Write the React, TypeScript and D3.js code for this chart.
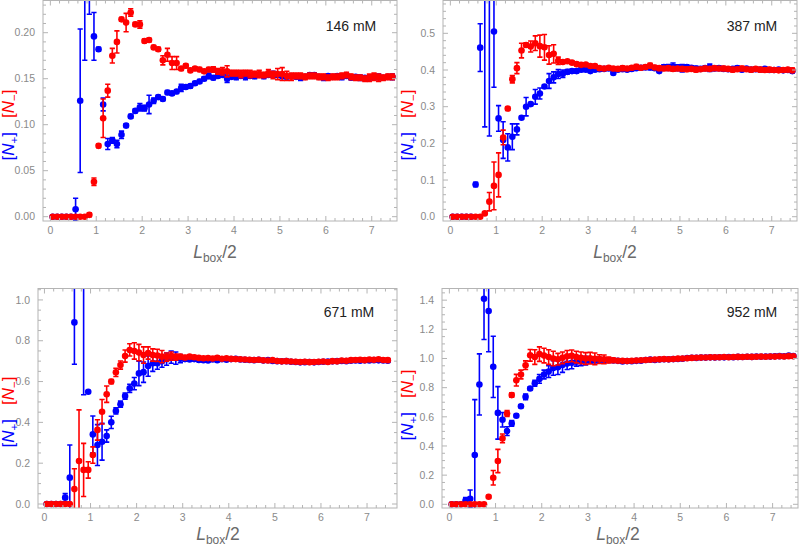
import React from "react";
import * as d3 from "d3";

// x grid (L_box/2)
const xs = [0.05,0.15,0.25,0.35,0.45,0.55,0.65,0.75,0.85,0.95,1.05,1.15,1.25,1.35,1.45,1.55,1.65,1.75,1.85,1.95,2.05,2.15,2.25,2.35,2.45,2.55,2.65,2.75,2.85,2.95,3.05,3.15,3.25,3.35,3.45,3.55,3.65,3.75,3.85,3.95,4.05,4.15,4.25,4.35,4.45,4.55,4.65,4.75,4.85,4.95,5.05,5.15,5.25,5.35,5.45,5.55,5.65,5.75,5.85,5.95,6.05,6.15,6.25,6.35,6.45,6.55,6.65,6.75,6.85,6.95,7.05,7.15,7.25,7.35,7.45];

// 146 mM
const p146Plus = [0,0,0,0,0,0.008,0.126,0.27,0.29,0.196,0.182,0.122,0.079,0.083,0.079,0.089,0.099,0.109,0.115,0.119,0.118,0.122,0.126,0.130,0.128,0.135,0.134,0.136,0.140,0.141,0.142,0.145,0.147,0.150,0.153,0.151,0.153,0.154,0.150,0.152,0.152,0.153,0.152,0.153,0.153,0.154,0.153,0.154,0.155,0.154,0.153,0.152,0.153,0.152,0.151,0.152,0.154,0.154,0.152,0.151,0.153,0.152,0.153,0.152,0.153,0.151,0.152,0.151,0.151,0.151,0.152,0.152,0.151,0.152,0.152];
const p146PlusErr = [0,0,0,0,0,0.012,0.078,0.1,0.07,0.026,0.002,0.007,0.006,0.003,0.004,0.004,0.002,0.002,0.002,0.004,0.003,0.01,0.003,0.002,0.002,0.002,0.002,0.002,0.004,0.002,0.002,0.002,0.002,0.002,0.003,0.002,0.002,0.002,0.004,0.002,0.003,0.002,0.003,0.002,0.003,0.002,0.003,0.002,0.003,0.002,0.003,0.002,0.002,0.002,0.003,0.002,0.002,0.002,0.002,0.003,0.002,0.002,0.002,0.003,0.002,0.002,0.002,0.003,0.002,0.002,0.002,0.003,0.002,0.002,0.003];
const p146Minus = [0,0,0,0,0,0,0,0,0.002,0.038,0.077,0.107,0.137,0.175,0.190,0.2145,0.211,0.222,0.209,0.209,0.191,0.192,0.184,0.182,0.170,0.176,0.167,0.167,0.161,0.164,0.159,0.161,0.160,0.158,0.160,0.160,0.158,0.158,0.158,0.156,0.156,0.155,0.156,0.155,0.155,0.155,0.154,0.156,0.154,0.155,0.155,0.153,0.152,0.153,0.153,0.152,0.153,0.153,0.152,0.152,0.151,0.152,0.152,0.153,0.154,0.152,0.151,0.151,0.150,0.151,0.152,0.151,0.151,0.152,0.152];
const p146MinusErr = [0,0,0,0,0,0,0,0,0.002,0.004,0.002,0.021,0.007,0.008,0.012,0.002,0.01,0.004,0.002,0.004,0.002,0.002,0.002,0.002,0.005,0.007,0.007,0.007,0.002,0.002,0.002,0.002,0.002,0.002,0.002,0.003,0.003,0.004,0.006,0.003,0.003,0.004,0.003,0.004,0.003,0.004,0.003,0.004,0.004,0.006,0.007,0.005,0.004,0.003,0.003,0.003,0.003,0.003,0.003,0.003,0.003,0.003,0.003,0.003,0.003,0.003,0.003,0.003,0.003,0.004,0.004,0.004,0.003,0.003,0.003];

// 387 mM
const p387Plus = [0,0,0,0,0,0.088,0.461,0.72,0.68,0.505,0.268,0.209,0.189,0.218,0.238,0.270,0.300,0.307,0.327,0.336,0.355,0.370,0.380,0.389,0.390,0.395,0.397,0.397,0.401,0.401,0.397,0.401,0.402,0.403,0.404,0.392,0.401,0.402,0.401,0.403,0.405,0.406,0.407,0.407,0.405,0.397,0.408,0.407,0.409,0.406,0.405,0.408,0.406,0.404,0.403,0.405,0.406,0.404,0.405,0.403,0.402,0.403,0.405,0.401,0.404,0.401,0.402,0.401,0.403,0.400,0.400,0.401,0.399,0.400,0.397];
const p387PlusErr = [0,0,0,0,0,0.006,0.065,0.475,0.46,0.152,0.035,0.05,0.037,0.035,0.015,0.004,0.025,0.004,0.02,0.015,0.004,0.02,0.015,0.012,0.01,0.006,0.005,0.005,0.005,0.004,0.004,0.004,0.004,0.004,0.004,0.004,0.004,0.005,0.004,0.005,0.004,0.005,0.005,0.006,0.005,0.004,0.006,0.008,0.01,0.008,0.01,0.006,0.005,0.006,0.005,0.006,0.01,0.005,0.006,0.005,0.005,0.005,0.006,0.005,0.005,0.005,0.005,0.005,0.005,0.005,0.006,0.005,0.005,0.006,0.005];
const p387Minus = [0,0,0,0,0,0,0,0.009,0.041,0.084,0.114,0.216,0.295,0.375,0.405,0.453,0.468,0.464,0.473,0.465,0.462,0.441,0.444,0.425,0.422,0.424,0.420,0.416,0.414,0.415,0.411,0.411,0.405,0.404,0.406,0.404,0.403,0.405,0.404,0.406,0.409,0.406,0.408,0.412,0.407,0.405,0.404,0.405,0.403,0.404,0.403,0.402,0.403,0.401,0.402,0.404,0.403,0.405,0.404,0.404,0.403,0.401,0.402,0.404,0.402,0.401,0.403,0.401,0.400,0.401,0.400,0.399,0.400,0.401,0.399];
const p387MinusErr = [0,0,0,0,0,0,0,0.003,0.025,0.065,0.06,0.02,0.005,0.01,0.015,0.02,0.006,0.015,0.02,0.03,0.035,0.025,0.025,0.01,0.004,0.004,0.004,0.004,0.004,0.004,0.004,0.004,0.004,0.005,0.004,0.005,0.005,0.006,0.005,0.005,0.006,0.005,0.005,0.006,0.005,0.006,0.005,0.006,0.006,0.005,0.006,0.006,0.005,0.006,0.005,0.006,0.005,0.006,0.005,0.006,0.005,0.006,0.005,0.006,0.005,0.006,0.005,0.006,0.005,0.006,0.006,0.005,0.006,0.005,0.006];

// 671 mM
const p671Plus = [0,0,0,0,0.031,0.129,0.89,null,1.15,0.55,0.341,0.289,0.305,0.333,0.400,0.456,0.489,0.529,0.567,0.590,0.640,0.646,0.676,0.690,0.690,0.700,0.710,0.720,0.715,0.712,0.710,0.708,0.710,0.706,0.705,0.703,0.708,0.705,0.709,0.707,0.710,0.712,0.708,0.707,0.706,0.705,0.707,0.703,0.705,0.701,0.700,0.699,0.700,0.697,0.696,0.694,0.695,0.696,0.694,0.696,0.697,0.698,0.699,0.700,0.701,0.700,0.702,0.703,0.702,0.704,0.703,0.705,0.704,0.703,0.702];
const p671PlusErr = [0,0,0,0,0.02,0.16,0.205,null,0.615,0.004,0.09,0.1,0.09,0.03,0.03,0.015,0.015,0.015,0.02,0.03,0.06,0.05,0.05,0.04,0.03,0.03,0.03,0.03,0.03,0.02,0.01,0.008,0.008,0.007,0.006,0.006,0.006,0.006,0.006,0.006,0.006,0.006,0.006,0.006,0.005,0.005,0.005,0.005,0.005,0.005,0.005,0.005,0.005,0.005,0.005,0.005,0.005,0.005,0.005,0.005,0.005,0.005,0.005,0.005,0.005,0.006,0.006,0.006,0.006,0.006,0.006,0.006,0.006,0.006,0.006];
const p671Minus = [0,0,0,0,0,0,0.073,0.211,0.167,0.167,0.24,0.363,0.452,0.538,0.600,0.645,0.681,0.725,0.755,0.750,0.742,0.730,0.740,0.730,0.728,0.722,0.720,0.725,0.720,0.722,0.718,0.722,0.719,0.716,0.714,0.715,0.713,0.717,0.712,0.714,0.711,0.710,0.709,0.708,0.707,0.706,0.707,0.704,0.703,0.705,0.701,0.699,0.700,0.698,0.697,0.696,0.697,0.695,0.696,0.697,0.698,0.696,0.700,0.699,0.703,0.702,0.705,0.706,0.707,0.705,0.708,0.707,0.709,0.706,0.705];
const p671MinusErr = [0,0,0,0,0,0,0.1,0.25,0.13,0.04,0.04,0.05,0.06,0.04,0.01,0.02,0.02,0.03,0.03,0.04,0.04,0.04,0.03,0.03,0.03,0.03,0.02,0.02,0.015,0.01,0.01,0.008,0.008,0.007,0.007,0.007,0.007,0.008,0.007,0.007,0.007,0.007,0.007,0.007,0.007,0.007,0.007,0.007,0.007,0.007,0.007,0.007,0.007,0.007,0.007,0.007,0.007,0.007,0.007,0.007,0.007,0.007,0.007,0.008,0.008,0.008,0.008,0.008,0.008,0.008,0.008,0.008,0.008,0.008,0.008];

// 952 mM
const p952Plus = [0,0,0,0.026,0.038,0.338,0.822,1.41,1.326,0.943,0.627,0.58,0.502,0.555,0.607,0.673,0.737,0.794,0.830,0.860,0.890,0.910,0.935,0.940,0.955,0.965,0.970,0.978,0.980,0.985,0.988,0.990,0.992,0.990,0.988,0.986,0.984,0.980,0.982,0.981,0.984,0.985,0.990,0.992,0.990,0.993,0.995,0.994,0.996,0.997,0.998,1.003,1.005,1.004,1.006,1.006,1.008,1.007,1.009,1.008,1.010,1.009,1.011,1.010,1.012,1.011,1.013,1.012,1.014,1.013,1.015,1.016,1.015,1.020,1.017];
const p952PlusErr = [0,0,0,0.02,0.06,0.38,0.21,0.28,0.28,0.21,0.18,0.05,0.03,0.02,0.01,0.01,0.02,0.01,0.02,0.03,0.03,0.04,0.05,0.05,0.05,0.04,0.04,0.03,0.03,0.03,0.02,0.02,0.015,0.01,0.01,0.01,0.008,0.008,0.008,0.008,0.008,0.008,0.008,0.008,0.008,0.008,0.008,0.008,0.008,0.008,0.008,0.008,0.008,0.008,0.008,0.008,0.008,0.008,0.008,0.008,0.008,0.008,0.008,0.008,0.008,0.008,0.008,0.008,0.008,0.008,0.008,0.008,0.008,0.01,0.008];
const p952Minus = [0,0,0,0,0,0,0,0,0.052,0.182,0.297,0.452,0.623,0.749,0.851,0.890,0.954,1.022,1.010,1.030,1.020,1.010,1.000,0.995,1.005,1.015,1.018,1.010,1.005,1.000,1.002,0.998,0.996,0.994,0.990,0.988,0.985,0.984,0.983,0.985,0.986,0.988,0.990,0.991,0.993,0.994,0.996,0.995,0.997,0.999,1.000,1.002,1.004,1.005,1.006,1.007,1.008,1.008,1.009,1.010,1.009,1.010,1.011,1.010,1.012,1.011,1.012,1.013,1.012,1.014,1.013,1.015,1.014,1.016,1.015];
const p952MinusErr = [0,0,0,0,0,0,0,0,0.008,0.05,0.08,0.03,0.02,0.015,0.04,0.03,0.03,0.04,0.05,0.05,0.05,0.05,0.05,0.04,0.04,0.04,0.04,0.04,0.04,0.04,0.04,0.04,0.03,0.03,0.02,0.015,0.01,0.01,0.008,0.008,0.008,0.008,0.008,0.008,0.008,0.008,0.008,0.008,0.008,0.008,0.008,0.008,0.008,0.008,0.008,0.008,0.008,0.008,0.008,0.008,0.008,0.008,0.008,0.008,0.008,0.008,0.008,0.008,0.008,0.008,0.008,0.008,0.008,0.008,0.008];

const concLabels = ["146 mM", "387 mM", "671 mM", "952 mM"];
const xTickValues = [0, 1, 2, 3, 4, 5, 6, 7];
const yTicks146 = [0, 0.05, 0.1, 0.15, 0.2];
const yTicks387 = [0, 0.1, 0.2, 0.3, 0.4, 0.5];
const yTicks671 = [0, 0.2, 0.4, 0.6, 0.8, 1.0];
const yTicks952 = [0, 0.2, 0.4, 0.6, 0.8, 1.0, 1.2, 1.4];

const BLUE = "#0000ff";
const RED = "#ff0000";
const FRAME = "#b4b4b4";
const TICKTXT = "#8a8a8a";

type PanelProps = {
  id: string;
  box: { left: number; right: number; top: number; bottom: number };
  xDomain: [number, number];
  yDomain: [number, number];
  yTicks: number[];
  yMinorStep: number;
  yFmt: string;
  plus: (number | null)[];
  plusErr: (number | null)[];
  minus: (number | null)[];
  minusErr: (number | null)[];
  label: string;
  labelPos: [number, number];
  ylabPos: [number, number];
  xlabPos: [number, number];
};

function Panel(p: PanelProps) {
  const x = d3.scaleLinear().domain(p.xDomain).range([p.box.left, p.box.right]);
  const y = d3.scaleLinear().domain(p.yDomain).range([p.box.bottom, p.box.top]);
  const fmt = d3.format(p.yFmt);
  const xMinor = d3.range(0, 7.6, 0.2).filter((v) => v >= p.xDomain[0] && v <= p.xDomain[1]);
  const yMinor = d3
    .range(0, p.yDomain[1] + 1e-9, p.yMinorStep)
    .filter((v) => v >= p.yDomain[0] && v <= p.yDomain[1]);
  const isMajor = (v: number, arr: number[]) => arr.some((a) => Math.abs(a - v) < 1e-6);

  const series = (vals: (number | null)[], errs: (number | null)[], color: string, key: string) =>
    xs.map((xv, i) => {
      const v = vals[i];
      if (v === null || v === undefined) return null;
      const e = errs[i] || 0;
      const cx = x(xv);
      const cy = y(v);
      const capW = 2.6;
      return (
        <g key={key + i}>
          {e > 0.0005 && (
            <g stroke={color} strokeWidth={1.6}>
              <line x1={cx} x2={cx} y1={y(v - e)} y2={y(v + e)} />
              <line x1={cx - capW} x2={cx + capW} y1={y(v - e)} y2={y(v - e)} />
              <line x1={cx - capW} x2={cx + capW} y1={y(v + e)} y2={y(v + e)} />
            </g>
          )}
          <circle cx={cx} cy={cy} r={3.3} fill={color} />
        </g>
      );
    });

  const { left, right, top, bottom } = p.box;
  return (
    <g>
      <defs>
        <clipPath id={p.id}>
          <rect x={left} y={top} width={right - left} height={bottom - top} />
        </clipPath>
      </defs>
      <g clipPath={`url(#${p.id})`}>
        {series(p.plus, p.plusErr, BLUE, "b")}
        {series(p.minus, p.minusErr, RED, "r")}
      </g>
      <rect x={left} y={top} width={right - left} height={bottom - top} fill="none" stroke={FRAME} strokeWidth={1} />
      {xMinor.map((v, i) => {
        const L = isMajor(v, xTickValues) ? 5 : 3;
        return (
          <g key={"xt" + i} stroke={FRAME} strokeWidth={1}>
            <line x1={x(v)} x2={x(v)} y1={bottom} y2={bottom - L} />
            <line x1={x(v)} x2={x(v)} y1={top} y2={top + L} />
          </g>
        );
      })}
      {yMinor.map((v, i) => {
        const L = isMajor(v, p.yTicks) ? 5 : 3;
        return (
          <g key={"yt" + i} stroke={FRAME} strokeWidth={1}>
            <line x1={left} x2={left + L} y1={y(v)} y2={y(v)} />
            <line x1={right} x2={right - L} y1={y(v)} y2={y(v)} />
          </g>
        );
      })}
      {xTickValues.map((v) => (
        <text key={"xl" + v} x={x(v)} y={bottom + 13} fontSize={10.5} fill={TICKTXT} textAnchor="middle">
          {v}
        </text>
      ))}
      {p.yTicks.map((v) => (
        <text key={"yl" + v} x={left - 8} y={y(v) + 3.7} fontSize={10.5} fill={TICKTXT} textAnchor="end">
          {fmt(v)}
        </text>
      ))}
      <text x={p.labelPos[0]} y={p.labelPos[1]} fontSize={14} fill="#222" textAnchor="middle">
        {p.label}
      </text>
      <text x={p.xlabPos[0]} y={p.xlabPos[1]} fontSize={17.5} fill="#6a6a6a" textAnchor="middle">
        <tspan fontStyle="italic">L</tspan>
        <tspan fontSize={12} dy={4}>box</tspan>
        <tspan dy={-4}>/2</tspan>
      </text>
      <text
        transform={`translate(${p.ylabPos[0]},${p.ylabPos[1]}) rotate(-90)`}
        fontSize={17}
        textAnchor="middle"
      >
        <tspan fill={BLUE}>[</tspan>
        <tspan fill={BLUE} fontStyle="italic">N</tspan>
        <tspan fill={BLUE} fontSize={11.5} dy={4}>+</tspan>
        <tspan fill={BLUE} dy={-4}>]</tspan>
        <tspan fill={RED}>{"\u00a0\u00a0\u00a0["}</tspan>
        <tspan fill={RED} fontStyle="italic">N</tspan>
        <tspan fill={RED} fontSize={11.5} dy={4}>{"\u2212"}</tspan>
        <tspan fill={RED} dy={-4}>]</tspan>
      </text>
    </g>
  );
}

export default function App() {
  return (
    <svg
      width={800}
      height={549}
      style={{ position: "absolute", left: 0, top: 0, background: "#fff", fontFamily: "'Liberation Sans', Arial, sans-serif" }}
    >
      <Panel
        id="c1"
        box={{ left: 43, right: 397, top: 0.5, bottom: 221 }}
        xDomain={[-0.16, 7.55]}
        yDomain={[-0.0047, 0.235]}
        yTicks={yTicks146}
        yMinorStep={0.01}
        yFmt=".2f"
        plus={p146Plus}
        plusErr={p146PlusErr}
        minus={p146Minus}
        minusErr={p146MinusErr}
        label={concLabels[0]}
        labelPos={[351, 31]}
        ylabPos={[14, 125]}
        xlabPos={[215, 258]}
      />
      <Panel
        id="c2"
        box={{ left: 443, right: 797, top: 0.5, bottom: 221 }}
        xDomain={[-0.16, 7.55]}
        yDomain={[-0.0117, 0.5895]}
        yTicks={yTicks387}
        yMinorStep={0.02}
        yFmt=".1f"
        plus={p387Plus}
        plusErr={p387PlusErr}
        minus={p387Minus}
        minusErr={p387MinusErr}
        label={concLabels[1]}
        labelPos={[752, 31]}
        ylabPos={[413, 125]}
        xlabPos={[615, 258]}
      />
      <Panel
        id="c3"
        box={{ left: 38, right: 397, top: 288.5, bottom: 508 }}
        xDomain={[-0.14, 7.65]}
        yDomain={[-0.0196, 1.056]}
        yTicks={yTicks671}
        yMinorStep={0.05}
        yFmt=".1f"
        plus={p671Plus}
        plusErr={p671PlusErr}
        minus={p671Minus}
        minusErr={p671MinusErr}
        label={concLabels[2]}
        labelPos={[349, 317]}
        ylabPos={[14, 412]}
        xlabPos={[218, 540]}
      />
      <Panel
        id="c4"
        box={{ left: 442, right: 798, top: 288.5, bottom: 508 }}
        xDomain={[-0.16, 7.55]}
        yDomain={[-0.0253, 1.48]}
        yTicks={yTicks952}
        yMinorStep={0.05}
        yFmt=".1f"
        plus={p952Plus}
        plusErr={p952PlusErr}
        minus={p952Minus}
        minusErr={p952MinusErr}
        label={concLabels[3]}
        labelPos={[752, 317]}
        ylabPos={[413, 405]}
        xlabPos={[618, 540]}
      />
    </svg>
  );
}
